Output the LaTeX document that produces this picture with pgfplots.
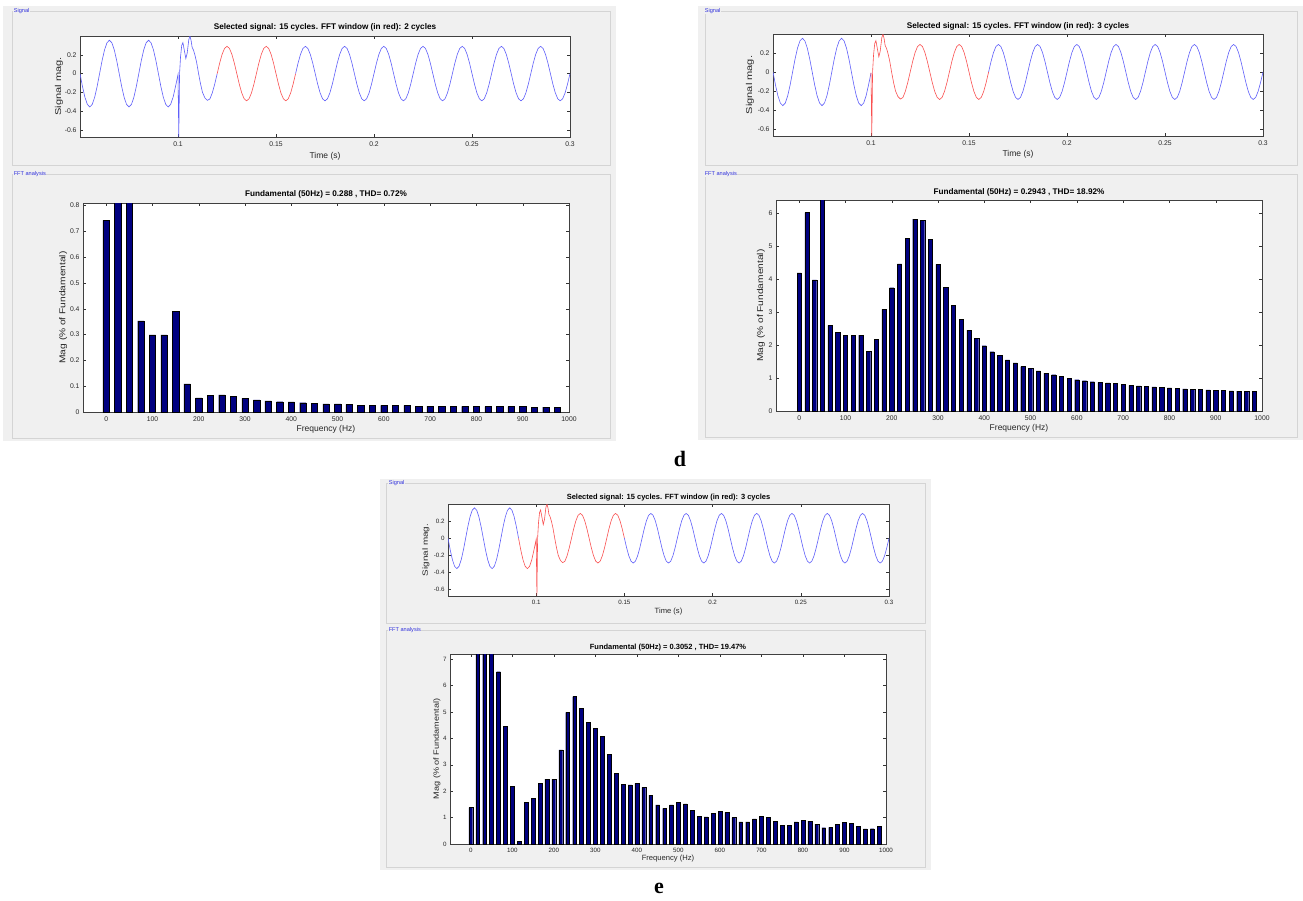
\documentclass[border=0pt]{standalone}
\usepackage{fontspec}
\setmainfont{Liberation Sans}
\newfontfamily\capfont{Liberation Serif}
\usepackage{pgfplots}
\usepackage{pgfplotstable}
\pgfplotsset{compat=1.18}
\definecolor{bgc}{RGB}{240,240,240}
\definecolor{framec}{RGB}{212,212,212}
\definecolor{navyc}{RGB}{0,0,128}
\definecolor{sigblue}{RGB}{95,95,250}
\definecolor{sigred}{RGB}{250,80,80}
\definecolor{grpc}{RGB}{50,50,220}

% time in ms, signal magnitude
\pgfplotstableread[row sep=\\]{
t y\\
50 0\\ 51.25 -0.136\\ 52.5 -0.251\\ 53.75 -0.328\\ 55 -0.355\\ 56.25 -0.328\\ 57.5 -0.251\\ 58.75 -0.136\\
60 0\\ 61.25 0.136\\ 62.5 0.251\\ 63.75 0.328\\ 65 0.355\\ 66.25 0.328\\ 67.5 0.251\\ 68.75 0.136\\
70 0\\ 71.25 -0.136\\ 72.5 -0.251\\ 73.75 -0.328\\ 75 -0.355\\ 76.25 -0.328\\ 77.5 -0.251\\ 78.75 -0.136\\
80 0\\ 81.25 0.136\\ 82.5 0.251\\ 83.75 0.328\\ 85 0.355\\ 86.25 0.328\\ 87.5 0.251\\ 88.75 0.136\\
90 0\\ 91.25 -0.136\\ 92.5 -0.251\\ 93.75 -0.328\\ 95 -0.355\\ 96.25 -0.328\\ 97.5 -0.251\\ 98.75 -0.136\\
100 -0.01\\ 100.4 -0.67\\ 100.8 0.0\\ 101.3 0.18\\ 101.9 0.30\\ 102.5 0.33\\ 103.2 0.25\\ 104.0 0.16\\
104.7 0.22\\ 105.5 0.36\\ 106.1 0.40\\ 106.7 0.35\\ 107.2 0.28\\ 107.9 0.25\\ 108.6 0.20\\ 109.5 0.12\\
110.5 0.00\\ 111.5 -0.11\\ 112.5 -0.20\\ 113.75 -0.26\\ 115 -0.285\\ 116.25 -0.27\\ 117.5 -0.205\\ 118.75 -0.111\\
120 0\\ 121.25 0.111\\ 122.5 0.205\\ 123.75 0.268\\ 125 0.29\\ 126.25 0.268\\ 127.5 0.205\\ 128.75 0.111\\
130 0\\ 131.25 -0.111\\ 132.5 -0.205\\ 133.75 -0.268\\ 135 -0.29\\ 136.25 -0.268\\ 137.5 -0.205\\ 138.75 -0.111\\
140 0\\ 141.25 0.111\\ 142.5 0.205\\ 143.75 0.268\\ 145 0.29\\ 146.25 0.268\\ 147.5 0.205\\ 148.75 0.111\\
150 0\\ 151.25 -0.111\\ 152.5 -0.205\\ 153.75 -0.268\\ 155 -0.29\\ 156.25 -0.268\\ 157.5 -0.205\\ 158.75 -0.111\\
160 0\\ 161.25 0.111\\ 162.5 0.205\\ 163.75 0.268\\ 165 0.29\\ 166.25 0.268\\ 167.5 0.205\\ 168.75 0.111\\
170 0\\ 171.25 -0.111\\ 172.5 -0.205\\ 173.75 -0.268\\ 175 -0.29\\ 176.25 -0.268\\ 177.5 -0.205\\ 178.75 -0.111\\
180 0\\ 181.25 0.111\\ 182.5 0.205\\ 183.75 0.268\\ 185 0.29\\ 186.25 0.268\\ 187.5 0.205\\ 188.75 0.111\\
190 0\\ 191.25 -0.111\\ 192.5 -0.205\\ 193.75 -0.268\\ 195 -0.29\\ 196.25 -0.268\\ 197.5 -0.205\\ 198.75 -0.111\\
200 0\\ 201.25 0.111\\ 202.5 0.205\\ 203.75 0.268\\ 205 0.29\\ 206.25 0.268\\ 207.5 0.205\\ 208.75 0.111\\
210 0\\ 211.25 -0.111\\ 212.5 -0.205\\ 213.75 -0.268\\ 215 -0.29\\ 216.25 -0.268\\ 217.5 -0.205\\ 218.75 -0.111\\
220 0\\ 221.25 0.111\\ 222.5 0.205\\ 223.75 0.268\\ 225 0.29\\ 226.25 0.268\\ 227.5 0.205\\ 228.75 0.111\\
230 0\\ 231.25 -0.111\\ 232.5 -0.205\\ 233.75 -0.268\\ 235 -0.29\\ 236.25 -0.268\\ 237.5 -0.205\\ 238.75 -0.111\\
240 0\\ 241.25 0.111\\ 242.5 0.205\\ 243.75 0.268\\ 245 0.29\\ 246.25 0.268\\ 247.5 0.205\\ 248.75 0.111\\
250 0\\ 251.25 -0.111\\ 252.5 -0.205\\ 253.75 -0.268\\ 255 -0.29\\ 256.25 -0.268\\ 257.5 -0.205\\ 258.75 -0.111\\
260 0\\ 261.25 0.111\\ 262.5 0.205\\ 263.75 0.268\\ 265 0.29\\ 266.25 0.268\\ 267.5 0.205\\ 268.75 0.111\\
270 0\\ 271.25 -0.111\\ 272.5 -0.205\\ 273.75 -0.268\\ 275 -0.29\\ 276.25 -0.268\\ 277.5 -0.205\\ 278.75 -0.111\\
280 0\\ 281.25 0.111\\ 282.5 0.205\\ 283.75 0.268\\ 285 0.29\\ 286.25 0.268\\ 287.5 0.205\\ 288.75 0.111\\
290 0\\ 291.25 -0.111\\ 292.5 -0.205\\ 293.75 -0.268\\ 295 -0.29\\ 296.25 -0.268\\ 297.5 -0.205\\ 298.75 -0.111\\
300 0\\
}\sigtab

% FFT, 2-cycle window (25 Hz resolution)
\pgfplotstableread[row sep=\\]{
f m\\
0 0.743\\ 25 1.5\\ 50 100\\ 75 0.353\\ 100 0.299\\ 125 0.299\\ 150 0.39\\ 175 0.109\\
200 0.055\\ 225 0.064\\ 250 0.066\\ 275 0.061\\ 300 0.053\\ 325 0.047\\ 350 0.043\\ 375 0.040\\
400 0.039\\ 425 0.036\\ 450 0.034\\ 475 0.032\\ 500 0.032\\ 525 0.030\\ 550 0.027\\ 575 0.027\\
600 0.026\\ 625 0.026\\ 650 0.026\\ 675 0.023\\ 700 0.023\\ 725 0.022\\ 750 0.022\\ 775 0.022\\
800 0.022\\ 825 0.021\\ 850 0.021\\ 875 0.021\\ 900 0.021\\ 925 0.019\\ 950 0.019\\ 975 0.019\\
}\fftA

% FFT, 3-cycle window (panel d)
\pgfplotstableread[row sep=\\]{
f m\\
0 4.19\\ 16.7 6.02\\ 33.3 3.98\\ 50 100\\ 66.7 2.60\\ 83.3 2.38\\ 100 2.30\\ 116.7 2.30\\ 133.3 2.30\\ 150 1.81\\
166.7 2.18\\ 183.3 3.08\\ 200 3.74\\ 216.7 4.46\\ 233.3 5.24\\ 250 5.82\\ 266.7 5.79\\ 283.3 5.20\\ 300 4.45\\ 316.7 3.76\\
333.3 3.21\\ 350 2.79\\ 366.7 2.45\\ 383.3 2.20\\ 400 1.98\\ 416.7 1.80\\ 433.3 1.68\\ 450 1.55\\ 466.7 1.46\\ 483.3 1.35\\
500 1.29\\ 516.7 1.22\\ 533.3 1.15\\ 550 1.10\\ 566.7 1.05\\ 583.3 1.00\\ 600 0.95\\ 616.7 0.92\\ 633.3 0.89\\ 650 0.87\\
666.7 0.85\\ 683.3 0.83\\ 700 0.81\\ 716.7 0.78\\ 733.3 0.76\\ 750 0.75\\ 766.7 0.73\\ 783.3 0.72\\ 800 0.70\\ 816.7 0.69\\
833.3 0.67\\ 850 0.66\\ 866.7 0.65\\ 883.3 0.64\\ 900 0.63\\ 916.7 0.62\\ 933.3 0.61\\ 950 0.60\\ 966.7 0.59\\ 983.3 0.59\\
}\fftB

% FFT, 3-cycle window (panel e)
\pgfplotstableread[row sep=\\]{
f m\\
0 1.38\\ 16.7 9\\ 33.3 9\\ 50 100\\ 66.7 6.53\\ 83.3 4.46\\ 100 2.18\\ 116.7 0.10\\ 133.3 1.57\\ 150 1.72\\
166.7 2.30\\ 183.3 2.46\\ 200 2.46\\ 216.7 3.57\\ 233.3 4.99\\ 250 5.59\\ 266.7 5.14\\ 283.3 4.61\\ 300 4.39\\ 316.7 4.08\\
333.3 3.40\\ 350 2.68\\ 366.7 2.27\\ 383.3 2.24\\ 400 2.30\\ 416.7 2.15\\ 433.3 1.85\\ 450 1.48\\ 466.7 1.35\\ 483.3 1.48\\
500 1.59\\ 516.7 1.52\\ 533.3 1.28\\ 550 1.05\\ 566.7 1.03\\ 583.3 1.16\\ 600 1.25\\ 616.7 1.20\\ 633.3 1.00\\ 650 0.84\\
666.7 0.84\\ 683.3 0.95\\ 700 1.04\\ 716.7 1.00\\ 733.3 0.86\\ 750 0.70\\ 766.7 0.72\\ 783.3 0.84\\ 800 0.91\\ 816.7 0.87\\
833.3 0.75\\ 850 0.62\\ 866.7 0.63\\ 883.3 0.75\\ 900 0.81\\ 916.7 0.78\\ 933.3 0.68\\ 950 0.57\\ 966.7 0.58\\ 983.3 0.68\\
}\fftC

\pgfplotsset{
  matax/.style={scale only axis, anchor=south west,
    axis background/.style={fill=white},
    axis line style={black!75, line width=0.45pt},
    every tick/.style={black!80, line width=0.4pt}, major tick length=3pt,
    tick align=inside,
    /pgf/number format/assume math mode=true,
    /pgf/number format/1000 sep={},
    tick label style={black!85},
    label style={black!85, anchor=center},
    every axis title/.style={anchor=center},
    xticklabel style={yshift=-1pt},
  },
  pbig/.style={tick label style={font=\fontsize{6.8}{8}\selectfont},
    label style={font=\fontsize{8.5}{10}\selectfont},
    title style={font=\bfseries\fontsize{8.2}{9.5}\selectfont}},
  psmall/.style={tick label style={font=\fontsize{6.2}{7.5}\selectfont},
    label style={font=\fontsize{7.6}{9}\selectfont},
    title style={font=\bfseries\fontsize{7.5}{9}\selectfont}},
  sigax/.style={xmin=50, xmax=300, ymin=-0.675, ymax=0.4,
    xtick={100,150,200,250,300}, xticklabels={0.1,0.15,0.2,0.25,0.3},
    ytick={-0.6,-0.4,-0.2,0,0.2}, xlabel={Time (s)}, ylabel={Signal mag.}},
  fftax/.style={xmin=-50, xmax=1000, ymin=0,
    xtick={0,100,200,300,400,500,600,700,800,900,1000},
    xlabel={Frequency (Hz)}, ylabel={Mag (\% of Fundamental)}},
  sigline/.style={sigblue, line width=0.6pt},
  redline/.style={sigred, line width=0.6pt},
  fftbar/.style={ybar, fill=navyc, draw=black, line width=0.3pt},
}

\newcommand{\grp}[2]{\node[anchor=west, fill=bgc, inner sep=0.6pt, text=grpc,
  font=\fontsize{5.6}{6}\selectfont] at (#1) {#2};}

\begin{document}
\begin{tikzpicture}
\fill[white] (0pt,0pt) rectangle (1303pt,-900pt);
\path[use as bounding box] (0pt,0pt) rectangle (1303pt,-900pt);

% ---------- panel backgrounds and frames ----------
\fill[bgc] (3pt,-6pt) rectangle (616pt,-441pt);
\fill[bgc] (698pt,-6pt) rectangle (1303pt,-440pt);
\fill[bgc] (380pt,-479pt) rectangle (931pt,-870pt);

\begin{scope}[framec, line width=0.8pt]
\draw (12pt,-11pt) rectangle (610pt,-165pt);
\draw (12pt,-174pt) rectangle (610pt,-438pt);
\draw (705pt,-11pt) rectangle (1297pt,-165pt);
\draw (705pt,-174pt) rectangle (1297pt,-437pt);
\draw (386pt,-483pt) rectangle (925pt,-623pt);
\draw (386pt,-630pt) rectangle (925pt,-867pt);
\end{scope}
\grp{13pt,-11pt}{Signal}
\grp{13pt,-174pt}{FFT analysis}
\grp{704pt,-11pt}{Signal}
\grp{704pt,-174pt}{FFT analysis}
\grp{388pt,-483pt}{Signal}
\grp{388pt,-630pt}{FFT analysis}

% ---------- panel 1 ----------
\begin{axis}[matax, pbig, sigax, at={(80pt,-137pt)}, width=490pt, height=101pt,
  title={Selected signal: 15 cycles. FFT window (in red): 2 cycles},
  title style={at={(axis description cs:0.5,1.085)}},
  xlabel style={at={(axis description cs:0.5,-0.19)}},
  ylabel style={at={(axis description cs:-0.043,0.5)}, xscale=1.3}]
\addplot[sigline, restrict x to domain=50:120] table[x=t, y=y] {\sigtab};
\addplot[redline, restrict x to domain=119.9:160.1] table[x=t, y=y] {\sigtab};
\addplot[sigline, restrict x to domain=160:300] table[x=t, y=y] {\sigtab};
\end{axis}

\begin{axis}[matax, pbig, fftax, at={(83pt,-412pt)}, width=486pt, height=209pt,
  ymax=0.81, ytick={0,0.1,0.2,0.3,0.4,0.5,0.6,0.7,0.8},
  title={Fundamental (50Hz) = 0.288 , THD= 0.72\%},
  title style={at={(axis description cs:0.5,1.043)}},
  xlabel style={at={(axis description cs:0.5,-0.083)}},
  ylabel style={at={(axis description cs:-0.041,0.5)}, xscale=1.2}]
\addplot[fftbar, bar width=13.8, restrict y to domain*=0:1] table[x=f, y=m] {\fftA};
\end{axis}

% ---------- panel 2 ----------
\begin{axis}[matax, pbig, sigax, at={(773pt,-136pt)}, width=490pt, height=102pt,
  title={Selected signal: 15 cycles. FFT window (in red): 3 cycles},
  title style={at={(axis description cs:0.5,1.075)}},
  xlabel style={at={(axis description cs:0.5,-0.175)}},
  ylabel style={at={(axis description cs:-0.047,0.5)}, xscale=1.3}]
\addplot[sigline, restrict x to domain=50:100] table[x=t, y=y] {\sigtab};
\addplot[redline, restrict x to domain=99.9:160.1] table[x=t, y=y] {\sigtab};
\addplot[sigline, restrict x to domain=160:300] table[x=t, y=y] {\sigtab};
\end{axis}

\begin{axis}[matax, pbig, fftax, at={(776pt,-411pt)}, width=486pt, height=211pt,
  ymax=6.4, ytick={0,1,2,3,4,5,6},
  title={Fundamental (50Hz) = 0.2943 , THD= 18.92\%},
  title style={at={(axis description cs:0.5,1.036)}},
  xlabel style={at={(axis description cs:0.5,-0.081)}},
  ylabel style={at={(axis description cs:-0.031,0.5)}, xscale=1.2}]
\addplot[fftbar, bar width=9.2, restrict y to domain*=0:8] table[x=f, y=m] {\fftB};
\end{axis}

% ---------- panel 3 ----------
\begin{axis}[matax, psmall, sigax, at={(448pt,-596pt)}, width=441pt, height=92pt,
  title={Selected signal: 15 cycles. FFT window (in red): 3 cycles},
  title style={at={(axis description cs:0.5,1.07)}},
  xlabel style={at={(axis description cs:0.5,-0.174)}},
  ylabel style={at={(axis description cs:-0.05,0.5)}, xscale=1.3}]
\addplot[sigline, restrict x to domain=50:90] table[x=t, y=y] {\sigtab};
\addplot[redline, restrict x to domain=89.9:150.1] table[x=t, y=y] {\sigtab};
\addplot[sigline, restrict x to domain=150:300] table[x=t, y=y] {\sigtab};
\end{axis}

\begin{axis}[matax, psmall, fftax, at={(450pt,-844pt)}, width=436pt, height=190pt,
  ymax=7.2, ytick={0,1,2,3,4,5,6,7},
  title={Fundamental (50Hz) = 0.3052 , THD= 19.47\%},
  title style={at={(axis description cs:0.5,1.034)}},
  xlabel style={at={(axis description cs:0.5,-0.079)}},
  ylabel style={at={(axis description cs:-0.03,0.5)}, xscale=1.2}]
\addplot[fftbar, bar width=9.2, restrict y to domain*=0:8] table[x=f, y=m] {\fftC};
\end{axis}

% ---------- captions ----------
\node[font=\capfont\bfseries\fontsize{22}{24}\selectfont] at (680pt,-459pt) {d};
\node[font=\capfont\bfseries\fontsize{22}{24}\selectfont] at (659pt,-888pt) {e};
\end{tikzpicture}
\end{document}
